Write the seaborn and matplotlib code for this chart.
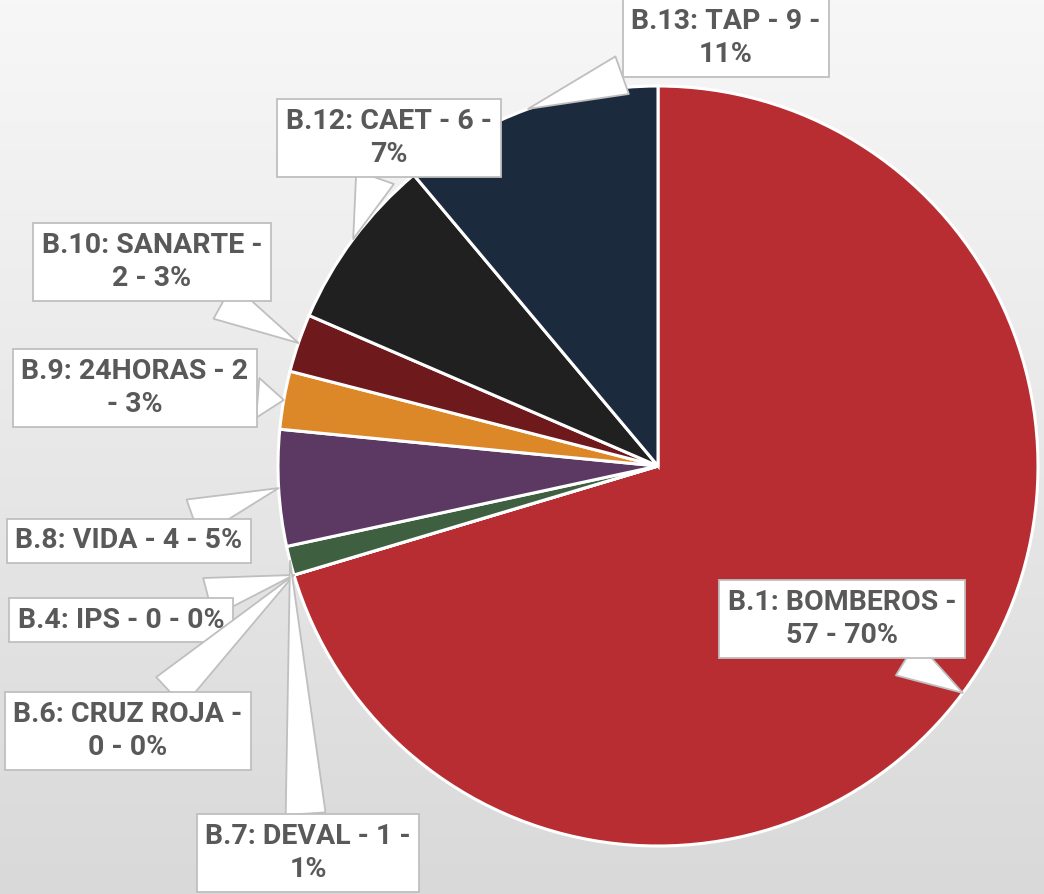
import numpy as np
import matplotlib.pyplot as plt
import seaborn as sns

sns.set_theme(style='white')
plt.rcParams['font.family'] = ['Roboto', 'DejaVu Sans']

# data (clockwise from 12 o'clock)
categories = ['B.1: BOMBEROS', 'B.4: IPS', 'B.6: CRUZ ROJA', 'B.7: DEVAL', 'B.8: VIDA',
              'B.9: 24HORAS', 'B.10: SANARTE', 'B.12: CAET', 'B.13: TAP']
values = [57, 0, 0, 1, 4, 2, 2, 6, 9]
percents = [70, 0, 0, 1, 5, 3, 3, 7, 11]
colors = ['#B82D32', '#B82D32', '#B82D32', '#3F5F41', '#5B3963',
          '#DC8829', '#6E191C', '#202020', '#1B2A3C']

# how each label wraps: (separator index, where newline goes)
wraps = [(1, 'after'), (None, None), (1, 'after'), (2, 'after'), (None, None),
         (2, 'before'), (1, 'after'), (2, 'after'), (2, 'after')]
# label box centres in pixels from top-left
label_pos = [(842, 619), (121, 620), (128, 731), (308, 853), (129, 541),
             (135, 388), (152, 262), (389, 138), (726, 38)]

W, H = 1044, 894
fig = plt.figure(figsize=(W / 100, H / 100), dpi=100)

# grey gradient background
bg = fig.add_axes([0, 0, 1, 1])
grad = np.linspace(247, 217, 256).reshape(-1, 1) / 255
bg.imshow(np.dstack([grad, grad, grad]), aspect='auto', extent=[0, 1, 0, 1])
bg.axis('off')

cx, cy, r = 658, 466, 380
ax = fig.add_axes([(cx - r) / W, (H - cy - r) / H, 2 * r / W, 2 * r / H])
ax.pie(values, colors=colors, startangle=90, counterclock=False, radius=1,
       wedgeprops=dict(edgecolor='white', linewidth=2.2))
ax.set_xlim(-1.0, 1.0)
ax.set_ylim(-1.0, 1.0)
ax.axis('off')

total = sum(values)
cum = 0
for i, cat in enumerate(categories):
    v = values[i]
    parts = [cat, str(v), f'{percents[i]}%']
    k, where = wraps[i]
    if k is None:
        txt = ' - '.join(parts)
    elif where == 'after':
        txt = ' - '.join(parts[:k]) + ' -\n' + ' - '.join(parts[k:])
    else:
        txt = ' - '.join(parts[:k]) + '\n- ' + ' - '.join(parts[k:])
    mid = np.deg2rad(360 * (cum + v / 2) / total)
    cum += v
    anchor = (np.sin(mid), np.cos(mid))
    px, py = label_pos[i]
    ax.annotate(txt, xy=anchor, xycoords='data',
                xytext=(px / W, 1 - py / H), textcoords='figure fraction',
                ha='center', va='center', fontsize=20.5, fontweight='bold',
                color='#595959', linespacing=1.3, annotation_clip=False,
                bbox=dict(boxstyle='square,pad=0.3', fc='white', ec='#BFBFBF', lw=1.3),
                arrowprops=dict(arrowstyle='wedge,tail_width=1.4', fc='white',
                                ec='#BFBFBF', lw=1.3, shrinkA=0, shrinkB=0))

fig.savefig('out.png', dpi=100)
